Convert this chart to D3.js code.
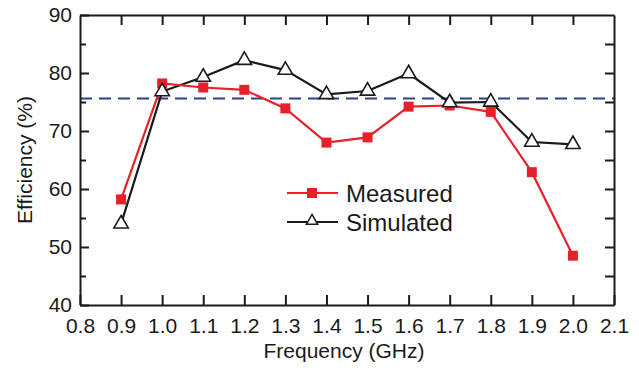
<!DOCTYPE html>
<html><head><meta charset="utf-8">
<script src="https://cdn.jsdelivr.net/npm/d3@7"></script>
<style>body{margin:0;background:#fff}svg{display:block;font-family:"Liberation Sans",Arial,sans-serif}</style>
</head><body><svg id="c" width="639" height="370"></svg>
<script>
const freq = [0.9,1.0,1.1,1.2,1.3,1.4,1.5,1.6,1.7,1.8,1.9,2.0];
const measured = [58.2,78.2,77.5,77.1,73.9,68.0,68.9,74.2,74.4,73.3,62.9,48.5];
const simulated = [54.0,76.8,79.3,82.2,80.5,76.3,76.9,79.9,74.9,75.0,68.1,67.7];
const refLine = 75.6;
const xTicks = [0.8,0.9,1.0,1.1,1.2,1.3,1.4,1.5,1.6,1.7,1.8,1.9,2.0,2.1];
const yTicks = [40,50,60,70,80,90];
const yMinor = [45,55,65,75,85];

const svg = d3.select("#c");
const L=80,R=614,T=15,B=305;
const x = d3.scaleLinear().domain([0.8,2.1]).range([L,R]);
const y = d3.scaleLinear().domain([40,90]).range([B,T]);
const ink="#1a1a1a";

// dashed reference
svg.append("line").attr("x1",L).attr("x2",R).attr("y1",y(refLine)).attr("y2",y(refLine))
  .attr("stroke","#2d3f8f").attr("stroke-width",2).attr("stroke-dasharray","12,7");

// axes
const fmt = d3.format(".1f");
svg.append("g").attr("transform",`translate(0,${B})`)
  .call(d3.axisBottom(x).tickValues(xTicks).tickFormat(fmt).tickSizeInner(-10).tickSizeOuter(0).tickPadding(13))
  .call(g=>{g.select(".domain").attr("stroke",ink).attr("stroke-width",2);g.selectAll(".tick line").attr("stroke",ink).attr("stroke-width",2);
    g.selectAll("text").attr("font-size",21).attr("fill",ink).attr("font-family","Liberation Sans, Arial");});
svg.append("g").attr("transform",`translate(0,${T})`)
  .call(d3.axisTop(x).tickValues(xTicks.slice(1,-1)).tickFormat("").tickSizeInner(-10).tickSizeOuter(0))
  .call(g=>{g.select(".domain").attr("stroke",ink).attr("stroke-width",2);g.selectAll(".tick line").attr("stroke",ink).attr("stroke-width",2);});
svg.append("g").attr("transform",`translate(${L},0)`)
  .call(d3.axisLeft(y).tickValues(yTicks).tickFormat(d3.format("d")).tickSizeInner(-9).tickSizeOuter(0).tickPadding(8))
  .call(g=>{g.select(".domain").attr("stroke",ink).attr("stroke-width",2);g.selectAll(".tick line").attr("stroke",ink).attr("stroke-width",2);
    g.selectAll("text").attr("font-size",21).attr("fill",ink).attr("font-family","Liberation Sans, Arial");});
svg.append("g").attr("transform",`translate(${L},0)`)
  .call(d3.axisLeft(y).tickValues(yMinor).tickFormat("").tickSizeInner(-6).tickSizeOuter(0))
  .call(g=>{g.select(".domain").remove();g.selectAll(".tick line").attr("stroke",ink).attr("stroke-width",2);});
svg.append("g").attr("transform",`translate(${R},0)`)
  .call(d3.axisRight(y).tickValues(yTicks.concat(yMinor).filter(v=>v>40&&v<90)).tickFormat("").tickSizeInner(-9).tickSizeOuter(0))
  .call(g=>{g.select(".domain").attr("stroke",ink).attr("stroke-width",2);g.selectAll(".tick line").attr("stroke",ink).attr("stroke-width",2);});

// titles
svg.append("text").attr("x",(L+R)/2-3).attr("y",358).attr("text-anchor","middle").attr("font-size",21).attr("fill",ink).text("Frequency (GHz)");
svg.append("text").attr("transform",`translate(32,${(T+B)/2}) rotate(-90)`).attr("text-anchor","middle").attr("font-size",21).attr("fill",ink).text("Efficiency (%)");

const red="#e8202a";
const line = d3.line().x((d,i)=>x(freq[i])).y(d=>y(d));
svg.append("path").datum(simulated).attr("d",line).attr("fill","none").attr("stroke",ink).attr("stroke-width",2.2);
svg.append("path").datum(measured).attr("d",line).attr("fill","none").attr("stroke",red).attr("stroke-width",2.2);

svg.selectAll(".sq").data(measured).join("rect").attr("x",(d,i)=>x(freq[i])-5).attr("y",d=>y(d)-5)
  .attr("width",10).attr("height",10).attr("fill",red);
const tri = d3.symbol().type(d3.symbolTriangle).size(90);
svg.selectAll(".tr").data(simulated).join("path").attr("d",tri)
  .attr("transform",(d,i)=>`translate(${x(freq[i])},${y(d)})`).attr("fill","#fff").attr("stroke",ink).attr("stroke-width",1.6);

// legend
const lg = svg.append("g");
lg.append("line").attr("x1",287).attr("x2",338).attr("y1",193).attr("y2",193).attr("stroke",red).attr("stroke-width",2.2);
lg.append("rect").attr("x",307).attr("y",188).attr("width",10).attr("height",10).attr("fill",red);
lg.append("text").attr("x",346).attr("y",202).attr("font-size",24).attr("fill",ink).text("Measured");
lg.append("line").attr("x1",287).attr("x2",338).attr("y1",222).attr("y2",222).attr("stroke",ink).attr("stroke-width",2.2);
lg.append("path").attr("d",d3.symbol().type(d3.symbolTriangle).size(55)).attr("transform","translate(312,221)").attr("fill","#fff").attr("stroke",ink).attr("stroke-width",1.5);
lg.append("text").attr("x",346).attr("y",231).attr("font-size",24).attr("fill",ink).text("Simulated");
</script></body></html>
